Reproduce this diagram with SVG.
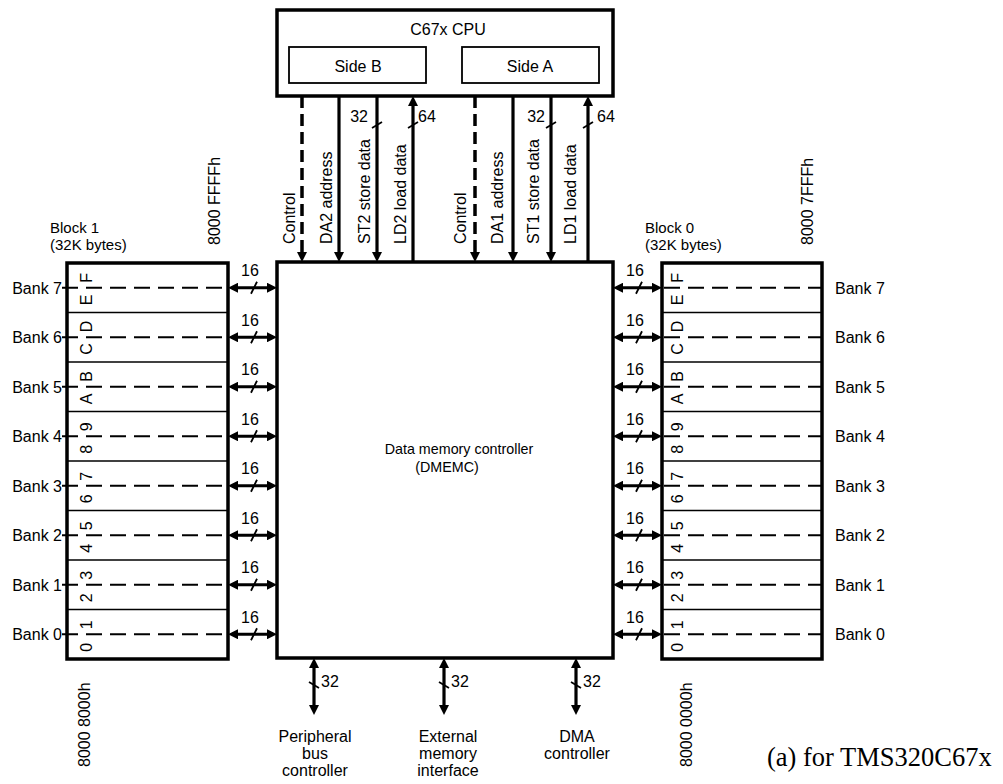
<svg xmlns="http://www.w3.org/2000/svg" width="1003" height="784" viewBox="0 0 1003 784">
<defs>
<style>
text{font-family:"Liberation Sans",Arial,sans-serif;fill:#000}
.t16{font-size:16px}
.t15{font-size:15px}
.t14{font-size:14.3px}
.dig{font-size:16px}
.mid{text-anchor:middle}
.end{text-anchor:end}
.box{fill:#fff;stroke:#000;stroke-width:3.5}
.sub{fill:#fff;stroke:#000;stroke-width:1.8}
.sep{stroke:#000;stroke-width:1.5}
.bank{stroke:#000;stroke-width:2.2;stroke-dasharray:16 8;fill:none}
.bus{stroke:#000;stroke-width:3.2;fill:none}
.tick{stroke:#000;stroke-width:1.8;fill:none}
.serif{font-family:"Liberation Serif","Times New Roman",serif;font-size:26.5px}
</style>
<marker id="ah" viewBox="0 0 10 10" refX="6" refY="5" markerWidth="10" markerHeight="10" markerUnits="userSpaceOnUse" orient="auto-start-reverse">
<path d="M0,0 L10,5 L0,10 z" fill="#000"/>
</marker>
</defs>
<rect width="1003" height="784" fill="#fff"/>

<g id="cpu">
<rect class="box" x="277" y="10" width="336" height="86"/>
<text class="t16 mid" x="448" y="35">C67x CPU</text>
<rect class="sub" x="289" y="47" width="137" height="36"/>
<text class="t16 mid" x="358" y="72">Side B</text>
<rect class="sub" x="462" y="47" width="137" height="36"/>
<text class="t16 mid" x="530" y="72">Side A</text>
</g>

<g id="dmemc">
<rect class="box" x="277" y="262" width="336" height="396"/>
<text class="t14 mid" x="459" y="454">Data memory controller</text>
<text class="t14 mid" x="447" y="472">(DMEMC)</text>
</g>

<g id="block1">
<rect class="box" x="67" y="263" width="161" height="396"/>
<line class="sep" x1="67" y1="312.5" x2="228" y2="312.5"/>
<line class="sep" x1="67" y1="362" x2="228" y2="362"/>
<line class="sep" x1="67" y1="411.5" x2="228" y2="411.5"/>
<line class="sep" x1="67" y1="461" x2="228" y2="461"/>
<line class="sep" x1="67" y1="510.5" x2="228" y2="510.5"/>
<line class="sep" x1="67" y1="560" x2="228" y2="560"/>
<line class="sep" x1="67" y1="609.5" x2="228" y2="609.5"/>
<path class="bank" d="M62,287.75H228M62,337.25H228M62,386.75H228M62,436.25H228M62,485.75H228M62,535.25H228M62,584.75H228M62,634.25H228"/>
<g class="dig">
<text transform="translate(92,282.75) rotate(-90)">F</text>
<text transform="translate(92,305.25) rotate(-90)">E</text>
<text transform="translate(92,332.25) rotate(-90)">D</text>
<text transform="translate(92,354.75) rotate(-90)">C</text>
<text transform="translate(92,381.75) rotate(-90)">B</text>
<text transform="translate(92,404.25) rotate(-90)">A</text>
<text transform="translate(92,431.25) rotate(-90)">9</text>
<text transform="translate(92,453.75) rotate(-90)">8</text>
<text transform="translate(92,480.75) rotate(-90)">7</text>
<text transform="translate(92,503.25) rotate(-90)">6</text>
<text transform="translate(92,530.25) rotate(-90)">5</text>
<text transform="translate(92,552.75) rotate(-90)">4</text>
<text transform="translate(92,579.75) rotate(-90)">3</text>
<text transform="translate(92,602.25) rotate(-90)">2</text>
<text transform="translate(92,629.25) rotate(-90)">1</text>
<text transform="translate(92,651.75) rotate(-90)">0</text>
</g>
<g class="t16 end">
<text x="62" y="293.75">Bank 7</text>
<text x="62" y="343.25">Bank 6</text>
<text x="62" y="392.75">Bank 5</text>
<text x="62" y="442.25">Bank 4</text>
<text x="62" y="491.75">Bank 3</text>
<text x="62" y="541.25">Bank 2</text>
<text x="62" y="590.75">Bank 1</text>
<text x="62" y="640.25">Bank 0</text>
</g>
<text class="t15" x="50" y="233">Block 1</text>
<text class="t15" x="50" y="250">(32K bytes)</text>
<text class="t16" transform="translate(220,245) rotate(-90)">8000 FFFFh</text>
<text class="t16" transform="translate(90,767) rotate(-90)">8000 8000h</text>
</g>

<g id="block0">
<rect class="box" x="662" y="263" width="160" height="396"/>
<line class="sep" x1="662" y1="312.5" x2="822" y2="312.5"/>
<line class="sep" x1="662" y1="362" x2="822" y2="362"/>
<line class="sep" x1="662" y1="411.5" x2="822" y2="411.5"/>
<line class="sep" x1="662" y1="461" x2="822" y2="461"/>
<line class="sep" x1="662" y1="510.5" x2="822" y2="510.5"/>
<line class="sep" x1="662" y1="560" x2="822" y2="560"/>
<line class="sep" x1="662" y1="609.5" x2="822" y2="609.5"/>
<path class="bank" d="M664,287.75H822M664,337.25H822M664,386.75H822M664,436.25H822M664,485.75H822M664,535.25H822M664,584.75H822M664,634.25H822"/>
<g class="dig">
<text transform="translate(683,282.75) rotate(-90)">F</text>
<text transform="translate(683,305.25) rotate(-90)">E</text>
<text transform="translate(683,332.25) rotate(-90)">D</text>
<text transform="translate(683,354.75) rotate(-90)">C</text>
<text transform="translate(683,381.75) rotate(-90)">B</text>
<text transform="translate(683,404.25) rotate(-90)">A</text>
<text transform="translate(683,431.25) rotate(-90)">9</text>
<text transform="translate(683,453.75) rotate(-90)">8</text>
<text transform="translate(683,480.75) rotate(-90)">7</text>
<text transform="translate(683,503.25) rotate(-90)">6</text>
<text transform="translate(683,530.25) rotate(-90)">5</text>
<text transform="translate(683,552.75) rotate(-90)">4</text>
<text transform="translate(683,579.75) rotate(-90)">3</text>
<text transform="translate(683,602.25) rotate(-90)">2</text>
<text transform="translate(683,629.25) rotate(-90)">1</text>
<text transform="translate(683,651.75) rotate(-90)">0</text>
</g>
<g class="t16">
<text x="835" y="293.75">Bank 7</text>
<text x="835" y="343.25">Bank 6</text>
<text x="835" y="392.75">Bank 5</text>
<text x="835" y="442.25">Bank 4</text>
<text x="835" y="491.75">Bank 3</text>
<text x="835" y="541.25">Bank 2</text>
<text x="835" y="590.75">Bank 1</text>
<text x="835" y="640.25">Bank 0</text>
</g>
<text class="t15" x="645" y="233">Block 0</text>
<text class="t15" x="645" y="250">(32K bytes)</text>
<text class="t16" transform="translate(813,245) rotate(-90)">8000 7FFFh</text>
<text class="t16" transform="translate(692,767) rotate(-90)">8000 0000h</text>
</g>

<g id="peripheral">
<text class="t16 mid" x="315" y="742">Peripheral</text>
<text class="t16 mid" x="315" y="759">bus</text>
<text class="t16 mid" x="315" y="776">controller</text>
</g>
<g id="emif">
<text class="t16 mid" x="448" y="742">External</text>
<text class="t16 mid" x="448" y="759">memory</text>
<text class="t16 mid" x="448" y="776">interface</text>
</g>
<g id="dma">
<text class="t16 mid" x="577" y="742">DMA</text>
<text class="t16 mid" x="577" y="759">controller</text>
</g>

<g id="connectors">
<line x1="302" y1="96" x2="302" y2="258" stroke="#000" stroke-width="3.5" stroke-dasharray="12 6" marker-end="url(#ah)"/>
<line class="bus" x1="339" y1="96" x2="339" y2="258" marker-end="url(#ah)"/>
<line class="bus" x1="377" y1="96" x2="377" y2="258" stroke-width="3.6" marker-end="url(#ah)"/>
<line class="bus" x1="413" y1="100" x2="413" y2="262" stroke-width="3.8" marker-start="url(#ah)"/>
<line x1="475" y1="96" x2="475" y2="258" stroke="#000" stroke-width="3.5" stroke-dasharray="12 6" marker-end="url(#ah)"/>
<line class="bus" x1="513" y1="96" x2="513" y2="258" marker-end="url(#ah)"/>
<line class="bus" x1="551" y1="96" x2="551" y2="258" stroke-width="3.6" marker-end="url(#ah)"/>
<line class="bus" x1="588" y1="100" x2="588" y2="262" stroke-width="3.8" marker-start="url(#ah)"/>
<path class="tick" d="M372,128L382,122M408,128L418,122M546,128L556,122M583,128L593,122"/>
<text class="t16 end" x="368" y="122">32</text>
<text class="t16" x="418" y="122">64</text>
<text class="t16 end" x="545" y="122">32</text>
<text class="t16" x="597" y="122">64</text>
<g class="t16">
<text transform="translate(295,244) rotate(-90)">Control</text>
<text transform="translate(332,244) rotate(-90)">DA2 address</text>
<text transform="translate(370,244) rotate(-90)">ST2 store data</text>
<text transform="translate(406,244) rotate(-90)">LD2 load data</text>
<text transform="translate(466,244) rotate(-90)">Control</text>
<text transform="translate(503,244) rotate(-90)">DA1 address</text>
<text transform="translate(539,244) rotate(-90)">ST1 store data</text>
<text transform="translate(576,244) rotate(-90)">LD1 load data</text>
</g>
<g class="bus">
<line x1="232" y1="287.75" x2="273" y2="287.75" marker-start="url(#ah)" marker-end="url(#ah)"/>
<line x1="232" y1="337.25" x2="273" y2="337.25" marker-start="url(#ah)" marker-end="url(#ah)"/>
<line x1="232" y1="386.75" x2="273" y2="386.75" marker-start="url(#ah)" marker-end="url(#ah)"/>
<line x1="232" y1="436.25" x2="273" y2="436.25" marker-start="url(#ah)" marker-end="url(#ah)"/>
<line x1="232" y1="485.75" x2="273" y2="485.75" marker-start="url(#ah)" marker-end="url(#ah)"/>
<line x1="232" y1="535.25" x2="273" y2="535.25" marker-start="url(#ah)" marker-end="url(#ah)"/>
<line x1="232" y1="584.75" x2="273" y2="584.75" marker-start="url(#ah)" marker-end="url(#ah)"/>
<line x1="232" y1="634.25" x2="273" y2="634.25" marker-start="url(#ah)" marker-end="url(#ah)"/>
<line x1="617" y1="287.75" x2="658" y2="287.75" marker-start="url(#ah)" marker-end="url(#ah)"/>
<line x1="617" y1="337.25" x2="658" y2="337.25" marker-start="url(#ah)" marker-end="url(#ah)"/>
<line x1="617" y1="386.75" x2="658" y2="386.75" marker-start="url(#ah)" marker-end="url(#ah)"/>
<line x1="617" y1="436.25" x2="658" y2="436.25" marker-start="url(#ah)" marker-end="url(#ah)"/>
<line x1="617" y1="485.75" x2="658" y2="485.75" marker-start="url(#ah)" marker-end="url(#ah)"/>
<line x1="617" y1="535.25" x2="658" y2="535.25" marker-start="url(#ah)" marker-end="url(#ah)"/>
<line x1="617" y1="584.75" x2="658" y2="584.75" marker-start="url(#ah)" marker-end="url(#ah)"/>
<line x1="617" y1="634.25" x2="658" y2="634.25" marker-start="url(#ah)" marker-end="url(#ah)"/>
</g>
<path class="tick" d="M251,293.75L257,281.75M251,343.25L257,331.25M251,392.75L257,380.75M251,442.25L257,430.25M251,491.75L257,479.75M251,541.25L257,529.25M251,590.75L257,578.75M251,640.25L257,628.25"/>
<path class="tick" d="M636,293.75L642,281.75M636,343.25L642,331.25M636,392.75L642,380.75M636,442.25L642,430.25M636,491.75L642,479.75M636,541.25L642,529.25M636,590.75L642,578.75M636,640.25L642,628.25"/>
<g class="t16 mid">
<text x="250" y="276">16</text>
<text x="250" y="325.5">16</text>
<text x="250" y="375">16</text>
<text x="250" y="424.5">16</text>
<text x="250" y="474">16</text>
<text x="250" y="523.5">16</text>
<text x="250" y="573">16</text>
<text x="250" y="622.5">16</text>
<text x="635" y="276">16</text>
<text x="635" y="325.5">16</text>
<text x="635" y="375">16</text>
<text x="635" y="424.5">16</text>
<text x="635" y="474">16</text>
<text x="635" y="523.5">16</text>
<text x="635" y="573">16</text>
<text x="635" y="622.5">16</text>
</g>
<line class="bus" x1="314" y1="662" x2="314" y2="711" marker-start="url(#ah)" marker-end="url(#ah)"/>
<line class="bus" x1="444" y1="662" x2="444" y2="711" marker-start="url(#ah)" marker-end="url(#ah)"/>
<line class="bus" x1="576" y1="662" x2="576" y2="711" marker-start="url(#ah)" marker-end="url(#ah)"/>
<path class="tick" d="M309,682L319,688M439,682L449,688M571,682L581,688"/>
<text class="t16" x="321" y="687">32</text>
<text class="t16" x="451" y="687">32</text>
<text class="t16" x="583" y="687">32</text>
</g>

<text class="serif" x="767" y="766">(a) for TMS320C67x</text>
</svg>
